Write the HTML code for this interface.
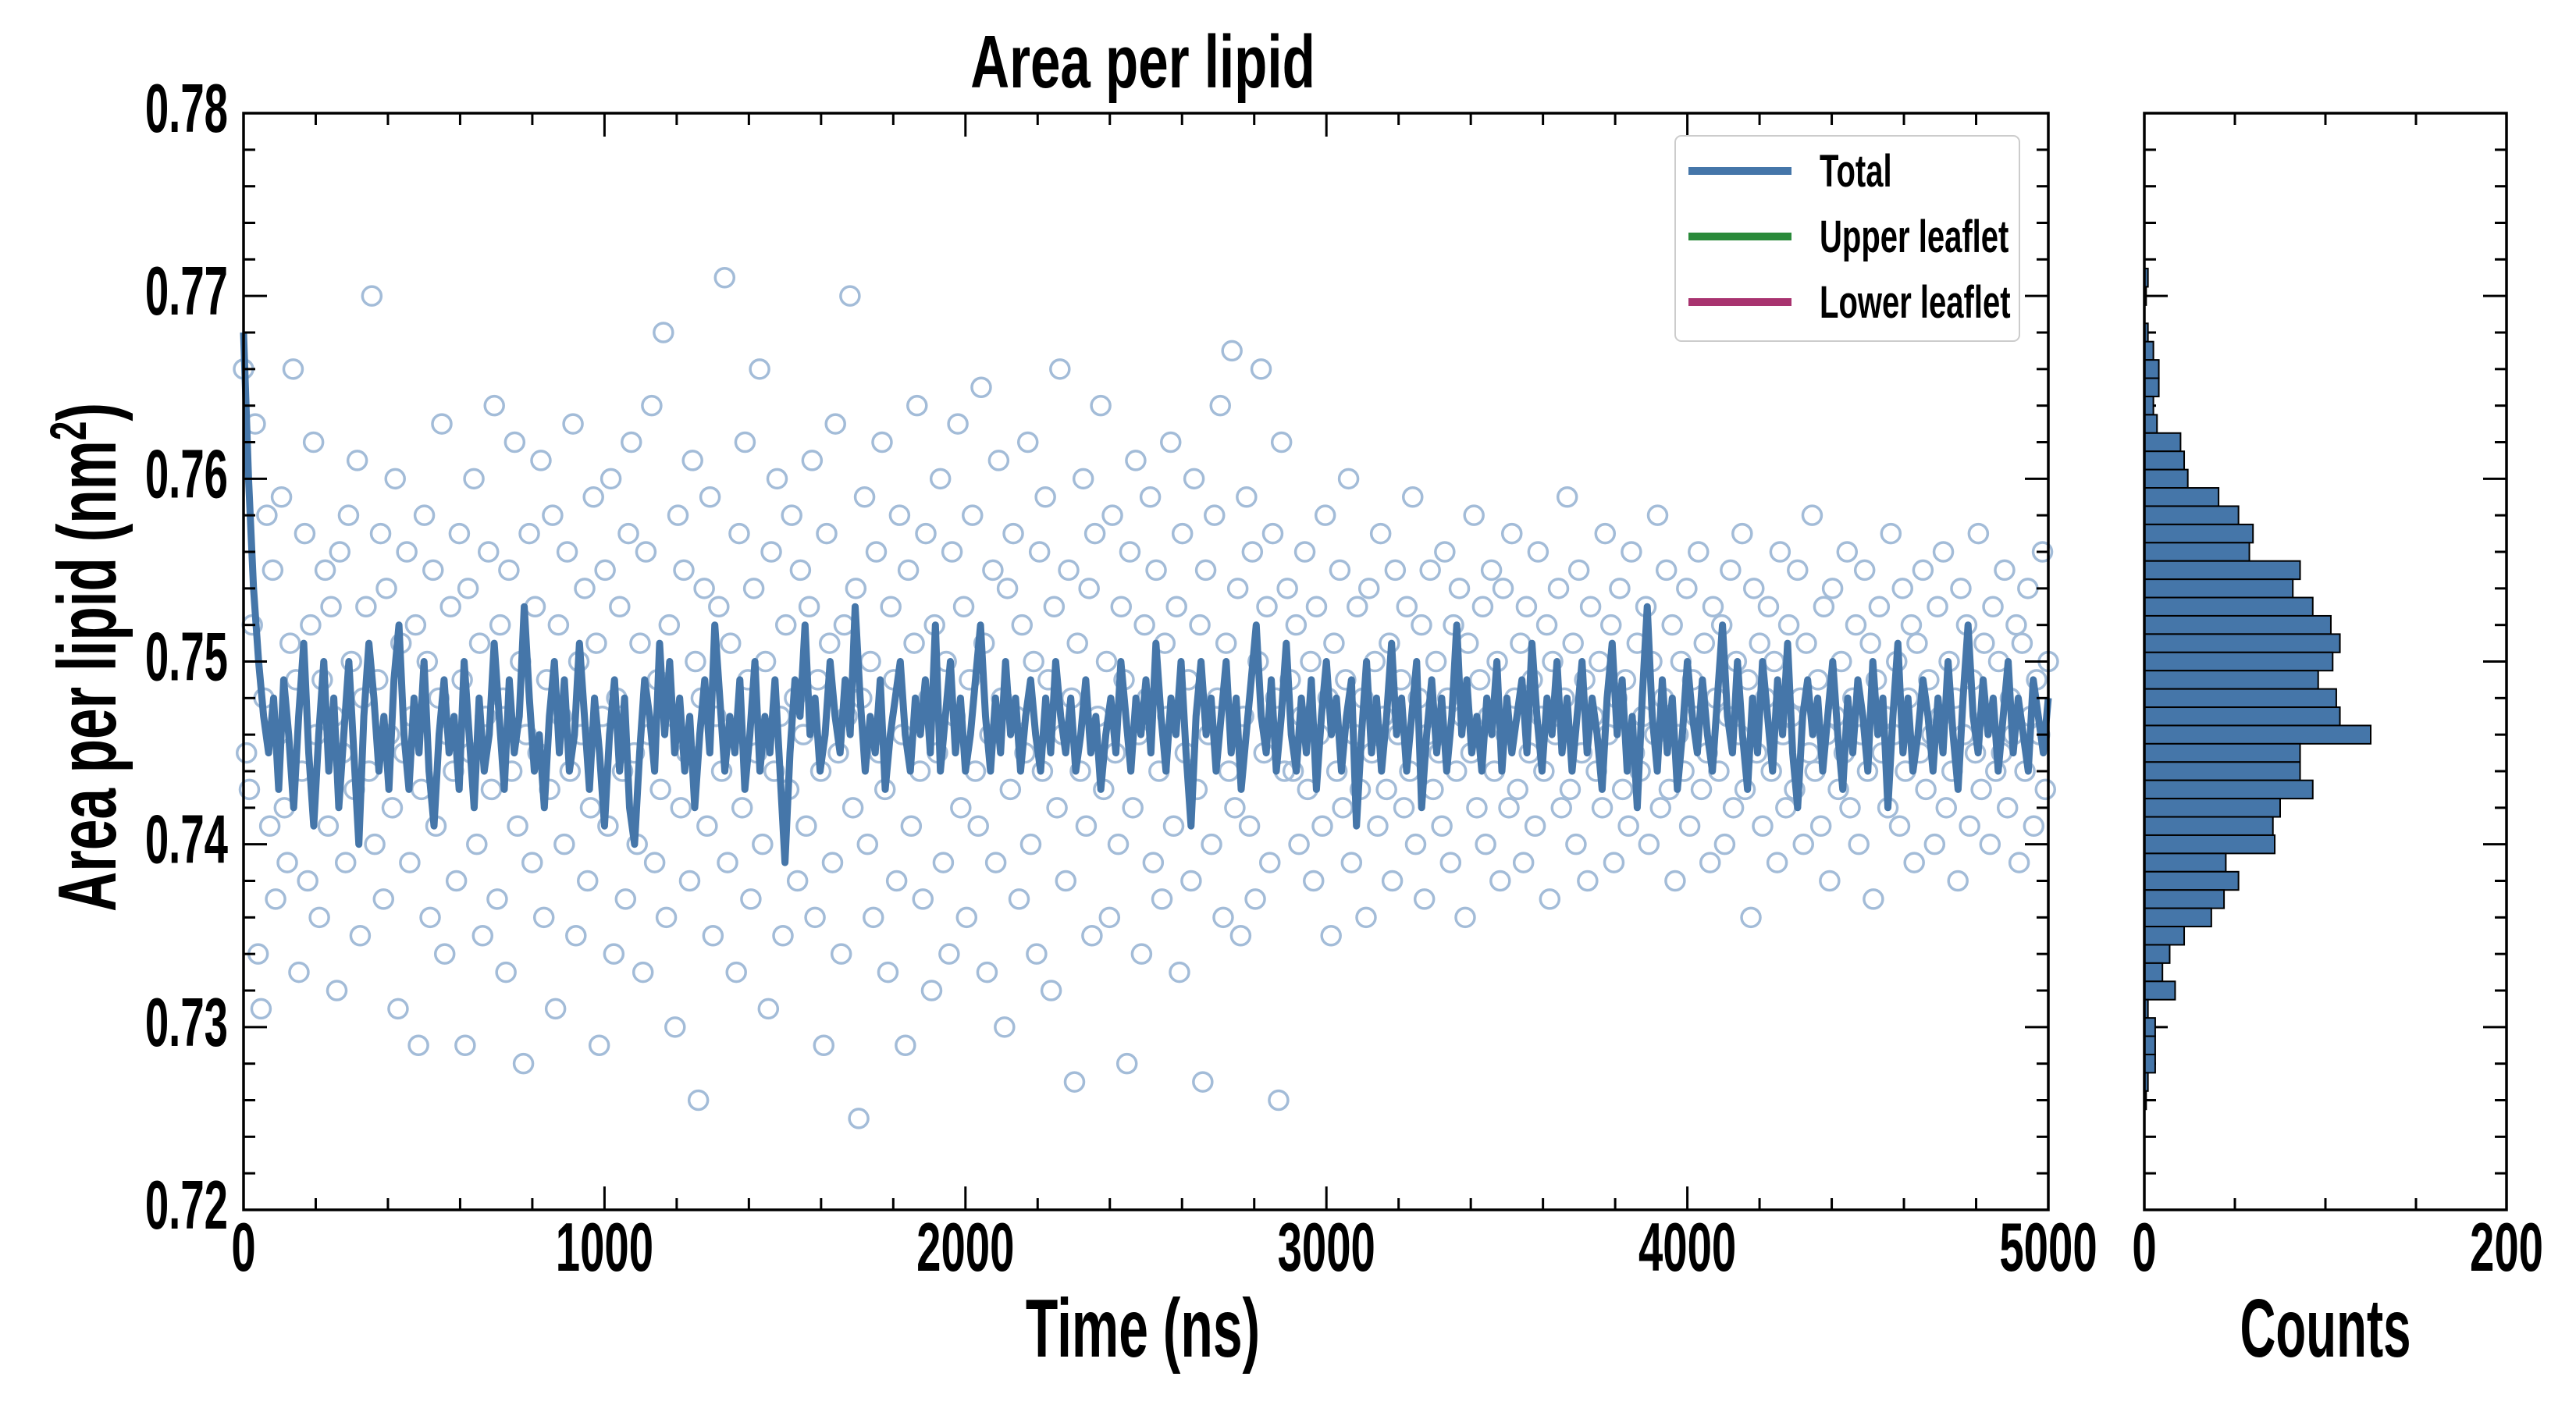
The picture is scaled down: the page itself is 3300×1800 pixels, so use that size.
<!DOCTYPE html>
<html><head><meta charset="utf-8"><style>
html,body{margin:0;padding:0;background:#fff;}
svg{display:block;}
text{font-family:"Liberation Sans Narrow","Liberation Sans",sans-serif;font-weight:bold;fill:#000;}
</style></head><body>
<svg id="chart" width="3300" height="1800" viewBox="0 0 3300 1800" xmlns="http://www.w3.org/2000/svg"></svg>
<script>
const xTicks=[0,1000,2000,3000,4000,5000];
const yTicks=[0.72,0.73,0.74,0.75,0.76,0.77,0.78];
const histTicks=[0,200];
const scatterVals=[.766,.745,.743,.752,.763,.734,.731,.748,.758,.741,.755,.737,.746,.759,.742,.739,.751,.766,.749,.733,.744,.757,.738,.752,.762,.746,.736,.749,.755,.741,.753,.747,.732,.756,.745,.739,.758,.750,.743,.761,.735,.748,.753,.744,.770,.740,.749,.757,.737,.754,.746,.742,.760,.731,.751,.745,.756,.739,.747,.752,.729,.743,.758,.750,.736,.755,.741,.748,.763,.734,.746,.753,.744,.738,.757,.749,.729,.754,.745,.760,.740,.751,.735,.747,.756,.743,.764,.737,.752,.748,.733,.755,.744,.762,.741,.750,.728,.746,.757,.739,.753,.745,.761,.736,.749,.743,.758,.731,.752,.747,.740,.756,.744,.763,.735,.750,.746,.754,.738,.742,.759,.751,.729,.747,.755,.741,.760,.734,.748,.753,.744,.737,.757,.762,.745,.740,.751,.733,.756,.746,.764,.739,.749,.743,.768,.736,.752,.747,.730,.758,.742,.755,.745,.738,.761,.750,.726,.748,.754,.741,.759,.735,.747,.753,.744,.771,.739,.751,.746,.733,.757,.742,.762,.749,.737,.754,.745,.766,.740,.750,.731,.756,.744,.760,.747,.735,.752,.743,.758,.748,.738,.755,.746,.741,.753,.761,.736,.749,.744,.729,.757,.751,.739,.763,.745,.734,.752,.747,.770,.742,.754,.725,.748,.759,.740,.750,.736,.756,.745,.762,.743,.733,.753,.749,.738,.758,.746,.729,.755,.741,.751,.764,.744,.737,.757,.748,.732,.752,.745,.760,.739,.750,.734,.756,.747,.763,.742,.753,.736,.749,.758,.744,.741,.765,.751,.733,.746,.755,.739,.761,.748,.730,.754,.743,.757,.747,.737,.752,.745,.762,.740,.750,.734,.756,.744,.759,.749,.732,.753,.742,.766,.746,.738,.755,.748,.727,.751,.744,.760,.741,.754,.735,.757,.747,.764,.743,.750,.736,.758,.745,.740,.753,.749,.728,.756,.742,.761,.746,.734,.752,.748,.759,.739,.755,.744,.737,.751,.747,.762,.741,.753,.733,.757,.745,.749,.738,.760,.743,.752,.727,.755,.746,.740,.758,.748,.764,.736,.751,.744,.767,.742,.754,.735,.747,.759,.741,.756,.737,.750,.766,.745,.753,.739,.757,.748,.726,.762,.744,.754,
.749,.744,.752,.740,.747,.756,.743,.750,.738,.753,.746,.741,.758,.748,.735,.751,.744,.755,.742,.749,.760,.739,.746,.753,.743,.748,.736,.754,.745,.750,.741,.757,.747,.743,.751,.738,.755,.746,.749,.742,.753,.744,.759,.740,.748,.752,.737,.746,.755,.743,.750,.745,.741,.756,.748,.739,.752,.744,.754,.747,.736,.751,.745,.758,.742,.749,.753,.740,.747,.755,.744,.750,.738,.754,.746,.742,.757,.748,.743,.751,.739,.753,.745,.749,.741,.756,.747,.744,.752,.737,.750,.746,.754,.742,.748,.759,.743,.751,.740,.755,.745,.749,.738,.753,.747,.744,.750,.742,.757,.746,.752,.739,.748,.754,.743,.749,.741,.756,.745,.751,.744,.747,.753,.740,.750,.746,.758,.742,.748,.755,.743,.752,.738,.746,.750,.744,.754,.741,.749,.747,.756,.743,.751,.745,.739,.753,.748,.744,.752,.740,.747,.755,.742,.750,.746,.757,.743,.749,.736,.754,.745,.751,.741,.748,.753,.744,.750,.739,.756,.746,.742,.752,.747,.743,.755,.748,.740,.751,.745,.758,.744,.749,.741,.753,.746,.738,.754,.747,.743,.750,.745,.756,.742,.748,.752,.740,.746,.755,.744,.751,.737,.749,.753,.745,.747,.742,.757,.746,.750,.741,.754,.744,.748,.752,.739,.751,.745,.755,.743,.749,.746,.740,.753,.747,.756,.742,.750,.744,.748,.738,.754,.746,.752,.741,.749,.745,.757,.743,.751,.747,.740,.753,.744,.750,.745,.755,.742,.748,.746,.752,.739,.751,.744,.754,.747,.741,.749,.746,.756,.743,.750];
const lineVals=[.768,.760,.754,.750,.747,.745,.748,.743,.749,.746,.742,.747,.751,.745,.741,.746,.750,.744,.748,.742,.746,.750,.745,.740,.747,.751,.748,.744,.747,.743,.749,.752,.746,.743,.748,.745,.750,.744,.741,.746,.749,.745,.747,.743,.750,.746,.742,.748,.744,.746,.751,.747,.743,.749,.745,.747,.753,.748,.744,.746,.742,.747,.750,.745,.749,.744,.746,.751,.747,.743,.748,.745,.741,.746,.749,.744,.748,.742,.740,.745,.749,.747,.744,.751,.746,.750,.745,.748,.744,.747,.742,.746,.749,.745,.752,.748,.744,.747,.745,.749,.743,.746,.750,.744,.747,.745,.749,.744,.739,.745,.749,.747,.752,.746,.748,.744,.746,.750,.747,.745,.749,.746,.753,.748,.744,.747,.745,.749,.743,.746,.748,.750,.746,.744,.748,.746,.749,.745,.752,.744,.747,.750,.745,.748,.744,.746,.749,.752,.747,.744,.748,.745,.750,.746,.748,.744,.747,.749,.746,.744,.748,.745,.750,.747,.745,.748,.744,.746,.749,.745,.747,.743,.746,.748,.745,.750,.747,.744,.748,.746,.749,.745,.751,.747,.744,.748,.746,.750,.745,.741,.747,.750,.746,.748,.744,.747,.750,.745,.748,.743,.746,.749,.752,.747,.745,.749,.744,.747,.751,.746,.744,.748,.745,.749,.743,.747,.750,.746,.748,.744,.747,.749,.741,.746,.750,.745,.748,.744,.747,.751,.746,.748,.744,.747,.750,.742,.746,.749,.745,.748,.744,.747,.752,.746,.749,.745,.747,.744,.748,.746,.750,.744,.748,.745,.747,.749,.745,.751,.747,.744,.748,.746,.750,.745,.748,.744,.747,.750,.745,.748,.746,
.743,.748,.751,.746,.749,.744,.747,.742,.748,.753,.747,.744,.749,.745,.748,.743,.746,.750,.747,.745,.749,.746,.744,.748,.752,.747,.745,.750,.746,.743,.748,.745,.750,.747,.744,.749,.746,.751,.745,.742,.747,.749,.746,.748,.744,.747,.750,.746,.743,.748,.745,.749,.747,.744,.750,.746,.748,.742,.747,.751,.745,.748,.744,.746,.749,.747,.744,.748,.745,.750,.746,.743,.748,.752,.747,.745,.749,.746,.748,.744,.747,.750,.745,.748,.746,.744,.749,.747,.745,.748];
const histBins=[.771,.770,.768,.767,.766,.765,.764,.763,.762,.761,.760,.759,.758,.757,.756,.755,.754,.753,.752,.751,.750,.749,.748,.747,.746,.745,.744,.743,.742,.741,.740,.739,.738,.737,.736,.735,.734,.733,.732,.731,.730,.729,.728,.727,.726];
const histCounts=[2,1,2,5,8,8,5,7,20,22,24,41,52,60,58,86,82,93,103,108,104,96,106,108,125,86,86,93,75,71,72,45,52,44,37,22,14,10,17,2,6,6,6,2,1];

const NS="http://www.w3.org/2000/svg";
const svg=document.getElementById('chart');
const L=312,R=2624,T=145,B=1550,HL=2747,HR=3211;
const xS=v=>L+(v-0)/5000*(R-L);
const yS=v=>B-(v-0.72)/0.06*(B-T);
const hS=v=>HL+v/200*(HR-HL);
function mk(tag,attrs,parent){const e=document.createElementNS(NS,tag);for(const k in attrs)e.setAttribute(k,attrs[k]);(parent||svg).appendChild(e);return e;}
function txt(s,x,y,size,anchor,sx,rot,parent){const g=mk('g',{transform:`translate(${x},${y})`+(rot?` rotate(${rot})`:'')+` scale(${sx},1)`},parent);const t=mk('text',{x:0,y:0,'font-size':size,'text-anchor':anchor},g);t.textContent=s;return t;}

const sg=mk('g',{});


scatterVals.forEach((v,i)=>{const c=mk('circle',{cx:xS(i*5000/(scatterVals.length-1)),cy:yS(v),r:12,fill:'none',stroke:'#a3bcd8','stroke-width':3.5},sg);

});
let d='';lineVals.forEach((v,i)=>{d+=(i?'L':'M')+xS(i*5000/(lineVals.length-1)).toFixed(1)+','+yS(v).toFixed(1);});
const ln=mk('path',{d:d,fill:'none',stroke:'#4576a9','stroke-width':9,'stroke-linejoin':'round'});



const fr=mk('rect',{x:L,y:T,width:R-L,height:B-T,fill:'none',stroke:'#000','stroke-width':3.5});


const tg=mk('g',{stroke:'#000','stroke-width':3});
for(let v=0;v<=5000;v+=200){const x=xS(v),len=(v%1000===0)?30:15;mk('line',{x1:x,x2:x,y1:B,y2:B-len},tg);mk('line',{x1:x,x2:x,y1:T,y2:T+len},tg);}
for(let k=0;k<=30;k++){const v=0.72+k*0.002,y=yS(v),len=(k%5===0)?30:15;mk('line',{x1:L,x2:L+len,y1:y,y2:y},tg);mk('line',{x1:R,x2:R-len,y1:y,y2:y},tg);}
xTicks.forEach(v=>{const t=txt(String(v),xS(v),1628,88,'middle',0.64);});
yTicks.forEach(v=>{const t=txt(v.toFixed(2),292,yS(v)+24,88,'end',0.62);});

const hg=mk('g',{});


histBins.forEach((b,i)=>{const y1=yS(b+0.0005),y2=yS(b-0.0005);const r=mk('rect',{x:HL,y:y1,width:hS(histCounts[i])-HL,height:y2-y1,fill:'#4576a9',stroke:'#000','stroke-width':2},hg);

});
const hf=mk('rect',{x:HL,y:T,width:HR-HL,height:B-T,fill:'none',stroke:'#000','stroke-width':3.5});


for(let v=0;v<=200;v+=50){const x=hS(v),len=(v%200===0)?30:15;mk('line',{x1:x,x2:x,y1:B,y2:B-len},tg);mk('line',{x1:x,x2:x,y1:T,y2:T+len},tg);}
for(let k=0;k<=30;k++){const v=0.72+k*0.002,y=yS(v),len=(k%5===0)?30:15;mk('line',{x1:HL,x2:HL+len,y1:y,y2:y},tg);mk('line',{x1:HR,x2:HR-len,y1:y,y2:y},tg);}
histTicks.forEach(v=>{const t=txt(String(v),hS(v),1628,88,'middle',0.64);});

const lg=mk('g',{});


mk('rect',{x:2146,y:174,width:441,height:263,rx:8,fill:'#fff','fill-opacity':0.85,stroke:'#ccc','stroke-width':2},lg);
[['Total','#4576a9',219],['Upper leaflet','#2a8a3a',303],['Lower leaflet','#a8336f',387]].forEach(([n,c,y])=>{
const e=mk('g',{},lg);


mk('line',{x1:2163,x2:2295,y1:y,y2:y,stroke:c,'stroke-width':10},e);
txt(n,2331,y+20,58,'start',0.69,0,e);});

const ti=txt('Area per lipid',1464,112,96,'middle',0.72);
const xl=txt('Time (ns)',1464,1738,106,'middle',0.64);
const cl=txt('Counts',2979,1738,106,'middle',0.6);
const yl=txt('Area per lipid (nm',148,842,106,'middle',0.67,-90);
const sup=mk('tspan',{'font-size':66,dy:-38},yl);sup.textContent='2';
const cp=mk('tspan',{'font-size':106,dy:38},yl);cp.textContent=')';
</script>
</body></html>
